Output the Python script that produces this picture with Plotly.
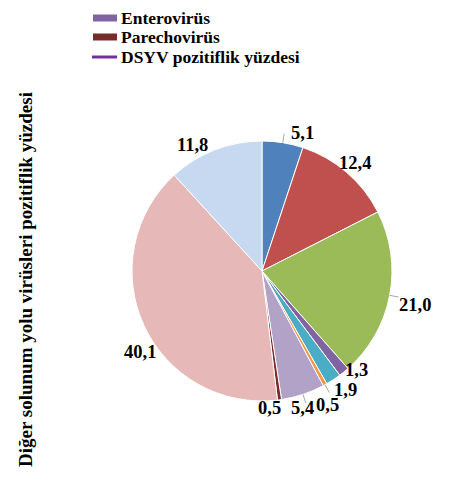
import math
import plotly.graph_objects as go

labels = ["İnfluenza A", "İnfluenza B", "RSV", "Enterovirüs", "Adenovirüs",
          "Bocavirüs", "Koronavirüs", "Parechovirüs", "Rinovirüs", "Metapnömovirüs"]
values = [5.1, 12.4, 21.0, 1.3, 1.9, 0.5, 5.4, 0.5, 40.1, 11.8]
colors = ["#4F81BD", "#C0504D", "#9BBB59", "#8064A2", "#4BACC6",
          "#F79646", "#B3A2C7", "#772C2A", "#E6B9B8", "#C6D9F1"]

legend_names = ["Enterovirüs", "Parechovirüs", "DSYV pozitiflik yüzdesi"]
legend_colors = ["#8064A2", "#772C2A", "#7030A0"]
y_title = "Diğer solunum yolu virüsleri pozitiflik yüzdesi"

# label placement style (angle shift in degrees, distance in pie radii)
label_shift = [7, 0, 1.7, -4.4, -1.7, 3, 1.7, 4.7, -8.9, -7.8]
label_dist = [1.108, 1.10, 1.208, 1.054, 1.115, 1.146, 1.10, 1.054, 1.123, 1.108]
leader = [True, False, True, False, False, True, True, False, False, False]

FONT = "Liberation Serif, Times New Roman, serif"
W, H = 455, 491
OFF = 8  # page body margin in the browser
CX, CY, R = 262, 271, 130  # pie centre / radius in window px


def px(x):
    return (x - OFF) / W


def py(y):
    return 1 - (y - OFF) / H


fig = go.Figure()
fig.add_trace(go.Pie(
    labels=labels, values=values, sort=False, direction="clockwise", rotation=0,
    marker=dict(colors=colors, line=dict(color="white", width=1)),
    textinfo="none", showlegend=False, hoverinfo="label+value",
    domain=dict(x=[px(CX - R), px(CX + R)], y=[py(CY + R), py(CY - R)]),
))

annotations = []
shapes = []
total = sum(values)
cum = 0.0
for v, sh, d, ld in zip(values, label_shift, label_dist, leader):
    mid = (cum + v / 2) / total * 360.0
    cum += v
    a = math.radians(mid + sh)
    lx = CX + R * d * math.sin(a)
    ly = CY - R * d * math.cos(a)
    annotations.append(dict(text=f"{v:.1f}".replace(".", ","), x=px(lx), y=py(ly),
                            xref="paper", yref="paper", showarrow=False,
                            xanchor="center", yanchor="middle",
                            font=dict(family=FONT, size=18.5, color="#000000", weight="bold")))
    if ld:
        m = math.radians(mid)
        x0, y0 = CX + R * math.sin(m), CY - R * math.cos(m)
        x1, y1 = CX + (R + 9) * math.sin(m), CY - (R + 9) * math.cos(m)
        shapes.append(dict(type="line", xref="paper", yref="paper",
                           x0=px(x0), y0=py(y0), x1=px(x1), y1=py(y1),
                           line=dict(color="#A6A6A6", width=1)))

# legend (drawn manually)
rows_y = [18, 37, 57]
for i, (n, c) in enumerate(zip(legend_names, legend_colors)):
    yc = rows_y[i]
    if i < 2:
        shapes.append(dict(type="rect", xref="paper", yref="paper",
                           x0=px(93), x1=px(117), y0=py(yc + 3.5), y1=py(yc - 3.5),
                           fillcolor=c, line=dict(width=0)))
    else:
        shapes.append(dict(type="line", xref="paper", yref="paper",
                           x0=px(92), x1=px(117), y0=py(yc), y1=py(yc),
                           line=dict(color=c, width=3)))
    annotations.append(dict(text=n, x=px(119), y=py(yc), xref="paper", yref="paper",
                            showarrow=False, xanchor="left", yanchor="middle",
                            font=dict(family=FONT, size=17.5, color="#000000", weight="bold")))

annotations.append(dict(text=y_title, x=px(25), y=py(280), xref="paper", yref="paper",
                        textangle=-90, showarrow=False, xanchor="center", yanchor="middle",
                        font=dict(family=FONT, size=19, color="#000000", weight="bold")))

fig.update_layout(
    width=W, height=H, paper_bgcolor="white", plot_bgcolor="white",
    margin=dict(l=0, r=0, t=0, b=0), showlegend=False,
    annotations=annotations, shapes=shapes,
)
fig.write_html("out.html")
